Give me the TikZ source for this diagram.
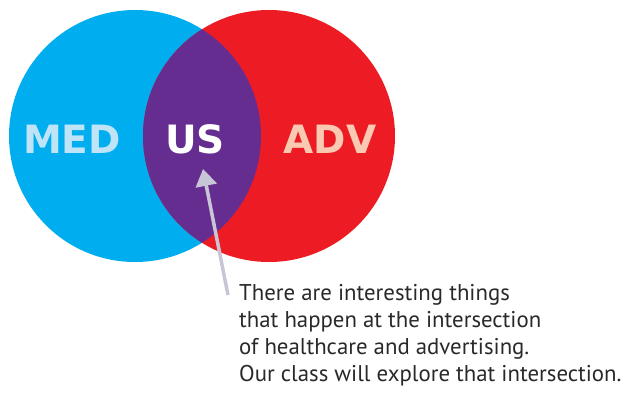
\documentclass[tikz,border=0pt]{standalone}
\usepackage{fontspec}
\setmainfont{PT Sans}
\newfontfamily\labelfont{DejaVu Sans}
\usetikzlibrary{positioning,arrows.meta}
\definecolor{medblue}{HTML}{00AEEF}
\definecolor{advred}{HTML}{ED1C24}
\definecolor{uspurple}{HTML}{662D91}
\definecolor{medtext}{HTML}{BFE4F7}
\definecolor{advtext}{HTML}{FAC9B2}
\definecolor{pointgray}{HTML}{C8C6D6}
\definecolor{notetext}{HTML}{2B2829}

\begin{document}
\begin{tikzpicture}[x=1pt,y=-1pt,on grid,
    set/.style={font=\labelfont\bfseries\fontsize{39}{39}\selectfont,inner sep=0pt},
    note/.style={font=\fontsize{22.8}{27}\selectfont,text=notetext,align=left,inner sep=0pt},
    pointer/.style={draw=pointgray,line width=3.5pt,-{Triangle[length=17pt,width=21pt]}}]
    	\useasboundingbox (0,0) rectangle (625,392);
    	% the two sets
    	\coordinate (cmed) at (135,136);
    	\coordinate (cadv) at (269,136);
    	\fill[medblue] (cmed) circle (126pt);
    	\fill[advred] (cadv) circle (126pt);
    	\begin{scope}
    	\clip (cmed) circle (126pt);
    	\fill[uspurple] (cadv) circle (126pt);
    	\end{scope}
    	% labels
    	\node[set,text=white] (us) at (195,139) {US};
    	\node[set,text=medtext] (med) [left=123pt of us] {MED};
    	\node[set,text=advtext] (adv) [right=135pt of us] {ADV};
    	% the note
    	\node[note,anchor=north west] (note) at (239,284) {There are interesting things\\that happen at the intersection\\of healthcare and advertising.\\Our class will explore that intersection.};
    	\coordinate (tail) at ([xshift=-11pt,yshift=-11pt]note.north west);
    	\draw[pointer] (tail) -- ([xshift=8pt,yshift=-15pt]us.south);
    \end{tikzpicture}
\end{document}
